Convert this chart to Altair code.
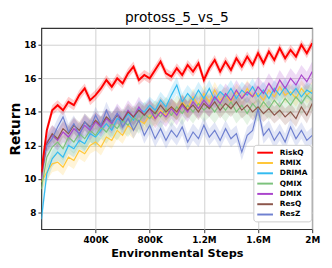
import altair as alt
import pandas as pd

steps_k = list(range(0, 2001, 40))
methods = ["RiskQ", "RMIX", "DRIMA", "QMIX", "DMIX", "ResQ", "ResZ"]
colors = ["#ff0000", "#ffc73a", "#33bbf0", "#7cc27c", "#aa44cc", "#8c564b", "#6f80d0"]

riskq = [10.4, 12.9, 14.1, 14.4, 14.1, 14.6, 14.4, 15.0, 15.4, 14.7,
         15.0, 15.4, 15.9, 15.5, 16.0, 15.7, 16.3, 16.7, 15.9, 16.2,
         16.0, 16.5, 17.0, 16.3, 16.1, 16.6, 16.2, 16.8, 16.4, 16.9,
         15.9, 16.6, 17.1, 16.4, 17.0, 16.5, 17.2, 16.7, 17.3, 16.8,
         17.5, 16.9, 17.6, 17.1, 17.8, 17.2, 17.7, 17.3, 18.0, 17.5, 18.1]
rmix = [9.8, 10.4, 10.9, 11.0, 10.7, 11.3, 11.1, 11.7, 11.5, 12.0,
        12.2, 11.9, 12.5, 12.3, 12.9, 12.6, 13.2, 12.9, 13.5, 13.3,
        13.8, 13.6, 14.1, 13.8, 14.3, 14.0, 14.6, 14.2, 14.9, 14.4,
        15.1, 14.6, 15.3, 14.7, 15.0, 14.6, 15.2, 14.8, 15.4, 14.9,
        15.1, 14.7, 15.3, 14.9, 15.5, 15.0, 15.2, 14.8, 15.4, 15.0, 15.3]
drima = [7.6, 10.3, 11.2, 11.6, 11.3, 12.0, 11.8, 12.3, 12.1, 12.7,
         12.5, 12.9, 13.3, 12.9, 13.6, 13.4, 13.9, 13.5, 14.2, 14.0,
         14.4, 14.1, 14.7, 14.3, 15.0, 15.6, 14.6, 15.1, 14.7, 15.3,
         14.8, 15.4, 14.7, 15.2, 14.9, 15.4, 14.8, 15.3, 15.0, 15.5,
         14.9, 15.3, 14.8, 15.4, 15.0, 15.5, 15.0, 15.4, 14.9, 15.3, 15.1]
qmix = [9.4, 11.3, 11.9, 12.2, 11.8, 12.5, 12.2, 12.7, 12.4, 12.9,
        12.6, 13.1, 12.8, 13.3, 13.0, 13.5, 13.2, 13.7, 13.4, 13.9,
        13.6, 14.0, 13.7, 14.2, 13.8, 14.3, 13.9, 14.4, 14.0, 14.5,
        14.1, 14.4, 14.0, 14.5, 14.1, 14.6, 14.0, 14.4, 13.9, 14.5,
        14.1, 14.6, 14.2, 14.7, 14.3, 14.8, 14.4, 14.9, 14.5, 15.0, 14.7]
dmix = [10.0, 12.2, 12.6, 12.3, 12.8, 12.5, 13.0, 12.7, 13.2, 12.9,
        13.4, 13.1, 13.6, 13.3, 13.9, 13.5, 14.1, 13.7, 14.3, 13.8,
        14.2, 13.6, 14.0, 13.7, 14.2, 13.8, 14.4, 14.0, 14.6, 14.2,
        14.7, 14.3, 14.9, 14.5, 15.1, 14.7, 15.3, 14.8, 15.2, 14.9,
        15.5, 15.1, 15.7, 15.2, 15.9, 15.4, 16.0, 15.6, 16.2, 15.8, 16.4]
resq = [10.2, 12.1, 12.7, 12.4, 13.0, 12.7, 13.2, 12.9, 13.4, 13.1,
        13.5, 13.2, 13.7, 13.4, 13.8, 13.5, 14.0, 13.7, 14.1, 13.8,
        14.2, 13.9, 14.4, 14.0, 14.3, 14.0, 14.5, 14.1, 14.4, 14.0,
        14.5, 14.2, 14.6, 14.1, 14.5, 14.2, 14.6, 14.1, 14.4, 14.0,
        14.3, 13.9, 14.2, 13.8, 14.1, 13.7, 14.0, 13.6, 14.3, 13.8, 14.5]
resz = [10.6, 12.0, 12.4, 13.1, 13.7, 12.8, 13.3, 12.6, 13.4, 13.0,
        13.8, 13.2, 14.1, 13.4, 13.9, 13.1, 13.6, 12.9, 13.5, 12.6,
        13.2, 12.4, 13.0, 12.3, 12.9, 12.5, 13.1, 12.2, 12.8, 12.4,
        13.2, 12.5, 12.9, 12.3, 13.0, 12.4, 12.7, 11.6, 12.6, 12.9,
        14.2, 12.6, 13.0, 12.3, 12.8, 12.2, 13.1, 12.4, 12.9, 12.3, 12.6]

series = [riskq, rmix, drima, qmix, dmix, resq, resz]
band_half = [0.3, 0.5, 0.5, 0.7, 0.6, 0.5, 0.5]

tick_values = [400000, 800000, 1200000, 1600000, 2000000]
tick_labels = ["400K", "800K", "1.2M", "1.6M", "2M"]
y_ticks = [8, 10, 12, 14, 16, 18]

rows = []
for m, vals, h in zip(methods, series, band_half):
    for s, v in zip(steps_k, vals):
        rows.append({"step": s * 1000, "value": v, "lo": v - h, "hi": v + h,
                     "method": m, "band": m})
df = pd.DataFrame(rows)

label_expr = " : ".join(f"datum.value == {v} ? '{l}'" for v, l in zip(tick_values, tick_labels)) + " : ''"

x_enc = alt.X("step:Q", scale=alt.Scale(domain=[0, 2000000], nice=False),
              axis=alt.Axis(values=tick_values, labelExpr=label_expr, title="Environmental Steps",
                            labelFlush=False, labelPadding=3, titlePadding=3))
y_axis = alt.Axis(values=y_ticks, title="Return", titlePadding=1, labelPadding=2)
y_scale = alt.Scale(domain=[7, 19], nice=False)

band = alt.Chart(df).mark_area(opacity=0.2, clip=True).encode(
    x=x_enc,
    y=alt.Y("lo:Q", scale=y_scale, axis=y_axis),
    y2="hi:Q",
    color=alt.Color("band:N", scale=alt.Scale(domain=methods, range=colors), legend=None),
    detail="band:N",
)

lines = alt.Chart(df).transform_filter("datum.method != 'RiskQ'").mark_line(strokeWidth=1.2, clip=True).encode(
    x=x_enc,
    y=alt.Y("value:Q", scale=y_scale, axis=y_axis),
    color=alt.Color("method:N", scale=alt.Scale(domain=methods, range=colors),
                    legend=alt.Legend(title=None, orient="none", legendX=216, legendY=119,
                                      symbolType="M-1,0H3", symbolSize=64, symbolStrokeWidth=2,
                                      labelFontSize=7.5, labelFontWeight="bold", labelColor="black",
                                      rowPadding=1.5, padding=3, fillColor="white",
                                      strokeColor="#cccccc", cornerRadius=3, labelOffset=14)),
)

red = alt.Chart(df).transform_filter("datum.method == 'RiskQ'").mark_line(strokeWidth=2, clip=True).encode(
    x=x_enc,
    y=alt.Y("value:Q", scale=y_scale, axis=y_axis),
    color=alt.Color("method:N", scale=alt.Scale(domain=methods, range=colors), legend=None),
)

chart = alt.layer(band, lines, red).resolve_scale(color="independent").properties(
    width=276, height=205,
    title=alt.TitleParams("protoss_5_vs_5", fontSize=14, fontWeight="normal", offset=3, anchor="middle"),
    autosize=alt.AutoSizeParams(type="none"),
    padding={"left": 34, "top": 18, "right": 12, "bottom": 34},
).configure(
    font="DejaVu Sans",
).configure_view(
    stroke="#333333", strokeWidth=1.2,
).configure_axis(
    grid=True, gridColor="#d0d0d0", gridWidth=1, domain=False,
    tickColor="#333333", tickSize=3.5, labelFontSize=9, labelFontWeight="bold", labelColor="black",
    titleFontWeight="bold", titleColor="black",
).configure_axisX(titleFontSize=11.5).configure_axisY(titleFontSize=14)

chart.save("out.html", embed_options={"renderer": "svg", "actions": False})
